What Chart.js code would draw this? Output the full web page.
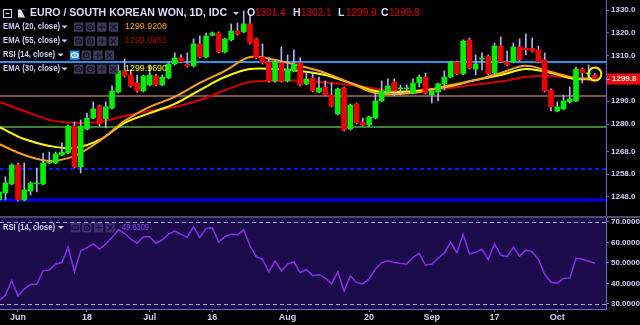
<!DOCTYPE html>
<html>
<head>
<meta charset="utf-8">
<script src="https://cdn.jsdelivr.net/npm/chart.js@4.4.1/dist/chart.umd.min.js"></script>
<style>
  html, body { margin: 0; padding: 0; background: #000; }
  #wrap { position: relative; width: 640px; height: 325px; overflow: hidden; background: #000; }
  #priceChart { position: absolute; left: 0; top: 0; }
  #rsiChart { position: absolute; left: 0; top: 216px; }
</style>
</head>
<body>
<div id="wrap">
  <canvas id="priceChart" width="640" height="216"></canvas>
  <canvas id="rsiChart" width="640" height="109"></canvas>
</div>
<script>
// DATA (EUR/KRW daily)
const dates = [
  '2018-05-29','2018-05-30','2018-05-31',
  '2018-06-01','2018-06-04','2018-06-05','2018-06-06','2018-06-07','2018-06-08','2018-06-11','2018-06-12','2018-06-13','2018-06-14','2018-06-15',
  '2018-06-18','2018-06-19','2018-06-20','2018-06-21','2018-06-22','2018-06-25','2018-06-26','2018-06-27','2018-06-28','2018-06-29',
  '2018-07-02','2018-07-03','2018-07-04','2018-07-05','2018-07-06','2018-07-09','2018-07-10','2018-07-11','2018-07-12','2018-07-13',
  '2018-07-16','2018-07-17','2018-07-18','2018-07-19','2018-07-20','2018-07-23','2018-07-24','2018-07-25','2018-07-26','2018-07-27','2018-07-30','2018-07-31',
  '2018-08-01','2018-08-02','2018-08-03','2018-08-06','2018-08-07','2018-08-08','2018-08-09','2018-08-10','2018-08-13','2018-08-14','2018-08-15','2018-08-16','2018-08-17',
  '2018-08-20','2018-08-21','2018-08-22','2018-08-23','2018-08-24','2018-08-27','2018-08-28','2018-08-29','2018-08-30','2018-08-31',
  '2018-09-03','2018-09-04','2018-09-05','2018-09-06','2018-09-07','2018-09-10','2018-09-11','2018-09-12','2018-09-13','2018-09-14',
  '2018-09-17','2018-09-18','2018-09-19','2018-09-20','2018-09-21','2018-09-24','2018-09-25','2018-09-26','2018-09-27','2018-09-28',
  '2018-10-01','2018-10-02','2018-10-03','2018-10-04','2018-10-05','2018-10-08','2018-10-09'
];

const opens = [
  1246.7, 1249.8, 1253.7, 1262.0, 1246.7, 1250.6, 1253.7, 1253.7, 1262.9, 1262.9,
  1266.4, 1267.3, 1279.1, 1261.2, 1277.8, 1282.6, 1287.9, 1282.2, 1287.0, 1294.0,
  1303.3, 1301.5, 1298.0, 1294.5, 1297.1, 1301.1, 1297.1, 1300.2, 1306.3, 1309.0,
  1306.3, 1305.5, 1315.1, 1309.4, 1318.9, 1319.9, 1311.6, 1316.9, 1320.8, 1320.4,
  1323.9, 1317.3, 1309.4, 1307.2, 1298.9, 1306.8, 1298.9, 1303.3, 1306.8, 1297.6,
  1300.2, 1294.0, 1296.2, 1292.7, 1284.4, 1295.8, 1277.8, 1288.8, 1280.9, 1279.6,
  1282.6, 1290.1, 1294.0, 1298.4, 1295.4, 1295.4, 1293.6, 1298.0, 1300.6, 1292.7,
  1294.0, 1297.6, 1300.6, 1307.2, 1302.0, 1316.9, 1304.1, 1308.5, 1309.8, 1302.4,
  1314.2, 1307.2, 1307.2, 1313.8, 1313.3, 1313.3, 1312.5, 1308.1, 1294.9, 1285.7,
  1286.6, 1289.7, 1290.1, 1304.1, 1302.0, 1301.4
];
const highs = [
  1251.1, 1256.8, 1262.5, 1262.9, 1262.9, 1254.6, 1260.7, 1267.3, 1267.7, 1267.7,
  1271.7, 1279.6, 1280.9, 1281.8, 1284.8, 1289.7, 1288.3, 1289.7, 1296.7, 1305.9,
  1308.5, 1303.7, 1301.5, 1301.5, 1305.9, 1301.9, 1301.5, 1307.2, 1311.2, 1310.3,
  1311.2, 1317.3, 1318.6, 1319.9, 1320.4, 1320.4, 1317.7, 1323.9, 1324.3, 1329.6,
  1327.8, 1317.7, 1315.1, 1309.0, 1307.6, 1313.8, 1310.3, 1312.5, 1309.0, 1302.8,
  1302.8, 1300.6, 1298.9, 1298.0, 1295.8, 1296.2, 1288.8, 1289.2, 1282.6, 1283.5,
  1293.6, 1298.9, 1299.8, 1299.8, 1297.1, 1297.1, 1299.8, 1301.5, 1302.4, 1295.4,
  1298.0, 1303.3, 1307.6, 1307.6, 1316.9, 1317.7, 1310.3, 1311.2, 1310.3, 1315.5,
  1318.2, 1312.0, 1315.5, 1317.3, 1319.5, 1317.7, 1314.2, 1311.2, 1295.4, 1289.7,
  1292.7, 1296.2, 1305.0, 1304.6, 1305.9, 1302.1
];
const lows = [
  1246.3, 1246.7, 1253.3, 1246.3, 1246.3, 1248.9, 1250.2, 1253.3, 1262.5, 1262.5,
  1266.0, 1266.9, 1260.7, 1258.5, 1277.4, 1282.2, 1279.1, 1278.3, 1286.6, 1293.6,
  1300.6, 1296.2, 1294.0, 1294.0, 1296.7, 1296.7, 1296.7, 1299.8, 1305.9, 1306.8,
  1305.0, 1305.0, 1309.0, 1309.0, 1318.6, 1311.2, 1311.2, 1316.4, 1319.0, 1320.0,
  1315.1, 1308.5, 1306.3, 1298.4, 1298.4, 1298.4, 1298.4, 1302.8, 1296.7, 1297.1,
  1294.0, 1293.6, 1292.3, 1287.5, 1284.0, 1277.0, 1277.4, 1280.0, 1279.1, 1279.1,
  1282.2, 1289.7, 1293.6, 1292.3, 1292.7, 1294.0, 1293.2, 1296.2, 1293.2, 1289.2,
  1290.1, 1294.9, 1300.2, 1301.5, 1301.5, 1304.1, 1301.5, 1303.7, 1301.5, 1301.9,
  1306.8, 1305.5, 1306.8, 1307.6, 1310.3, 1311.6, 1306.8, 1294.0, 1285.7, 1285.3,
  1286.2, 1289.2, 1289.7, 1298.0, 1299.3, 1299.8
];
const closes = [
  1250.2, 1254.1, 1262.0, 1246.7, 1251.1, 1254.1, 1254.1, 1262.9, 1263.3, 1266.9,
  1267.7, 1279.1, 1261.2, 1279.1, 1282.6, 1286.6, 1280.0, 1287.5, 1294.5, 1303.3,
  1301.1, 1296.7, 1294.5, 1301.1, 1301.5, 1297.1, 1300.6, 1306.3, 1309.0, 1307.2,
  1305.5, 1315.1, 1309.4, 1318.6, 1319.9, 1311.6, 1317.3, 1320.8, 1319.5, 1323.9,
  1315.5, 1309.0, 1306.8, 1298.9, 1307.2, 1298.9, 1304.1, 1306.3, 1297.1, 1299.8,
  1294.5, 1295.8, 1292.7, 1287.9, 1295.4, 1277.4, 1288.3, 1280.5, 1279.6, 1283.1,
  1290.1, 1294.5, 1296.7, 1294.5, 1295.8, 1295.8, 1298.0, 1300.6, 1293.6, 1294.5,
  1297.6, 1300.6, 1307.2, 1302.0, 1316.4, 1304.6, 1306.3, 1309.0, 1302.0, 1314.2,
  1307.2, 1305.9, 1313.8, 1308.1, 1312.5, 1312.0, 1307.2, 1294.5, 1287.5, 1287.5,
  1290.1, 1291.0, 1304.1, 1302.4, 1302.4, 1299.8
];

// EMA lines, read at every 4th bar
const emaIdx = [0, 4, 8, 12, 16, 20, 24, 28, 32, 36, 40, 44, 48, 52, 56, 60, 64, 68, 72, 76, 80, 84, 88, 92, 95];
const ema20 = [1271.2, 1266.4, 1263.8, 1266.0, 1272.6, 1281.3, 1287.5, 1291.9, 1298.0, 1303.3, 1309.4, 1308.1, 1305.5,
               1302.4, 1298.0, 1293.6, 1293.2, 1294.5, 1297.1, 1299.3, 1302.4, 1305.5, 1302.8, 1300.2, 1299.9];
const ema30 = [1278.7, 1273.4, 1270.4, 1269.5, 1273.0, 1280.5, 1284.8, 1288.8, 1294.9, 1300.6, 1304.1, 1304.1, 1303.3,
               1301.5, 1298.0, 1294.5, 1294.0, 1294.9, 1296.7, 1299.3, 1301.5, 1304.1, 1302.4, 1299.7, 1300.0];
const ema55 = [1289.7, 1285.7, 1281.8, 1280.5, 1280.9, 1283.5, 1285.7, 1287.5, 1290.5, 1294.9, 1298.4, 1298.9, 1299.1,
               1298.2, 1297.1, 1295.6, 1294.5, 1294.9, 1295.8, 1297.3, 1298.6, 1300.6, 1301.1, 1299.8, 1299.1];

const rsi = [
  31.6, 34.4, 41.4, 34.0, 37.3, 39.6, 39.6, 46.3, 46.6, 49.4,
  50.2, 57.7, 45.8, 55.9, 57.5, 59.3, 56.8, 59.3, 62.5, 66.1,
  64.5, 61.6, 59.6, 62.8, 62.8, 59.6, 61.2, 64.1, 65.6, 64.1,
  62.5, 67.7, 62.4, 66.9, 67.2, 60.2, 62.8, 64.1, 63.7, 66.1,
  58.4, 53.1, 51.8, 45.8, 51.0, 46.1, 49.5, 50.6, 45.3, 46.9,
  43.8, 44.3, 42.8, 39.8, 45.8, 36.3, 43.7, 40.4, 39.8, 42.2,
  47.1, 50.2, 51.1, 50.2, 49.8, 49.5, 52.8, 54.7, 48.9, 49.5,
  52.3, 55.0, 60.1, 55.0, 64.0, 54.4, 55.2, 56.7, 51.8, 59.3,
  53.9, 53.1, 57.7, 53.4, 56.3, 55.5, 51.8, 44.5, 40.6, 40.1,
  42.5, 42.7, 52.3, 51.8, 51.0, 49.8
];

// last indicator values as printed in the legends
const legendValues = ['1299.9208', '1299.0451', '1299.9690', '49.8309'];

// horizontal drawing levels
const levels = [1307.2, 1292.3, 1278.8, 1260.3, 1246.7];

const priceTicks = [1330, 1320, 1310, 1290, 1280, 1268, 1258, 1248];
const rsiTicks = [70, 60, 50, 40, 30];
const tickDates = ['2018-06-01', '2018-06-18', '2018-07-02', '2018-07-16', '2018-08-01', '2018-08-20', '2018-09-03', '2018-09-17', '2018-10-01'];
const tickLabels = ['Jun', '18', 'Jul', '16', 'Aug', '20', 'Sep', '17', 'Oct'];

// STYLE
const GREEN = '#00ee00', RED = '#ee0000', WICK = '#b0b0ee';
const ORANGE = '#f5a01e', YELLOW = '#ffff00', DARKRED = '#d00000';
const AXIS = '#6c6cc8', TXT = '#cfcff8';
const FONT = "'Liberation Sans', Arial, sans-serif";
const levelStyles = [
  { color: '#2196f3', width: 2, dash: [] },
  { color: '#a07060', width: 1.5, dash: [] },
  { color: '#3f7f35', width: 2, dash: [] },
  { color: '#1414ff', width: 2, dash: [4, 3] },
  { color: '#0000ff', width: 3, dash: [] }
];

const xMin = 0.13, xMax = 96.78;
const tickIdx = tickDates.map(d => dates.indexOf(d));
const last = closes.length - 1;

function fitText(ctx, str, x, y, w) {
  const m = ctx.measureText(str).width;
  ctx.save();
  ctx.translate(x, y);
  ctx.scale(w / m, 1);
  ctx.fillText(str, 0, 0);
  ctx.restore();
}

function arrow(ctx, cx, cy, color) {
  ctx.fillStyle = color;
  ctx.beginPath();
  ctx.moveTo(cx - 3, cy - 1.5);
  ctx.lineTo(cx + 3, cy - 1.5);
  ctx.lineTo(cx, cy + 1.5);
  ctx.closePath();
  ctx.fill();
}

// eye, gear, plus, cross buttons
function icons(ctx, x, cy, box, glyph, firstBox, firstGlyph) {
  for (let k = 0; k < 4; k++) {
    const bx = x + k * 11.6, by = cy - 4.5;
    ctx.fillStyle = (k === 0 && firstBox) ? firstBox : box;
    ctx.fillRect(bx, by, 9.3, 9.3);
    const g = (k === 0 && firstGlyph) ? firstGlyph : glyph;
    ctx.strokeStyle = g; ctx.fillStyle = g; ctx.lineWidth = 1.2;
    const mx = bx + 4.65, my = cy + 0.15;
    ctx.beginPath();
    if (k === 0) {
      ctx.ellipse(mx, my, 3.3, 2.2, 0, 0, Math.PI * 2); ctx.stroke();
      ctx.beginPath(); ctx.arc(mx, my, 1, 0, Math.PI * 2); ctx.fill();
    } else if (k === 1) {
      ctx.arc(mx, my, 2.6, 0, Math.PI * 2); ctx.stroke();
      ctx.beginPath(); ctx.arc(mx, my, 0.9, 0, Math.PI * 2); ctx.fill();
    } else if (k === 2) {
      ctx.moveTo(mx - 3, my); ctx.lineTo(mx + 3, my);
      ctx.moveTo(mx, my - 3); ctx.lineTo(mx, my + 3); ctx.stroke();
    } else {
      ctx.moveTo(mx - 2.6, my - 2.6); ctx.lineTo(mx + 2.6, my + 2.6);
      ctx.moveTo(mx + 2.6, my - 2.6); ctx.lineTo(mx - 2.6, my + 2.6); ctx.stroke();
    }
  }
}

const mainOverlay = {
  id: 'mainOverlay',
  beforeDatasetsDraw(chart) {
    const { ctx, chartArea: a, scales: { y } } = chart;
    levels.forEach((v, k) => {
      const st = levelStyles[k];
      const py = Math.round(y.getPixelForValue(v));
      ctx.save();
      ctx.strokeStyle = st.color;
      ctx.lineWidth = st.width;
      ctx.setLineDash(st.dash);
      ctx.beginPath();
      ctx.moveTo(a.left, py);
      ctx.lineTo(a.right, py);
      ctx.stroke();
      ctx.restore();
    });
  },
  afterDraw(chart) {
    const { ctx, scales: { x, y } } = chart;
    ctx.save();
    ctx.textBaseline = 'middle';

    // title row
    ctx.strokeStyle = TXT; ctx.lineWidth = 1;
    ctx.strokeRect(3.5, 9.5, 8, 8);
    ctx.beginPath(); ctx.moveTo(5.5, 13.5); ctx.lineTo(9.5, 13.5); ctx.stroke();
    ctx.fillStyle = '#e4e4ff';
    ctx.fillRect(18, 9.5, 7, 8);
    ctx.fillStyle = '#000';
    ctx.beginPath(); ctx.moveTo(21, 9.5); ctx.lineTo(25, 9.5); ctx.lineTo(25, 17.5); ctx.closePath(); ctx.fill();
    ctx.fillStyle = '#dcdcff';
    ctx.font = 'bold 10.5px ' + FONT;
    fitText(ctx, 'EURO / SOUTH KOREAN WON, 1D, IDC', 30, 13.5, 197);
    arrow(ctx, 236, 13.5, TXT);
    const ohlc = [['O', opens[last], 247], ['H', highs[last], 293], ['L', lows[last], 338], ['C', closes[last], 381]];
    ohlc.forEach(([k, v, px]) => {
      ctx.font = 'bold 10.5px ' + FONT; ctx.fillStyle = '#dcdcff';
      ctx.fillText(k, px, 13.5);
      ctx.font = '10px ' + FONT; ctx.fillStyle = '#e00000';
      ctx.fillText(v.toFixed(1), px + 8, 13.5);
    });

    // indicator rows
    const rows = [
      { label: 'EMA (20, close)', w: 57, cy: 27, arrowX: 64.5, iconX: 74, text: legendValues[0], color: ORANGE },
      { label: 'EMA (55, close)', w: 57, cy: 41, arrowX: 64.5, iconX: 74, text: legendValues[1], color: '#b80000' },
      { label: 'RSI (14, close)', w: 52, cy: 55, arrowX: 60.5, iconX: 70, text: null, hi: true },
      { label: 'EMA (30, close)', w: 57, cy: 69, arrowX: 64.5, iconX: 74, text: legendValues[2], color: YELLOW }
    ];
    rows.forEach(r => {
      ctx.font = 'bold 9px ' + FONT; ctx.fillStyle = TXT;
      fitText(ctx, r.label, 3, r.cy, r.w);
      arrow(ctx, r.arrowX, r.cy, TXT);
      icons(ctx, r.iconX, r.cy, '#3a3a58', '#15152a', r.hi ? '#2196f3' : null, r.hi ? '#ffffff' : null);
      if (r.text) {
        ctx.font = '9px ' + FONT; ctx.fillStyle = r.color;
        fitText(ctx, r.text, 125, r.cy, 42);
      }
    });

    // marker circle on the last bar
    ctx.strokeStyle = '#ffee00'; ctx.lineWidth = 2;
    ctx.beginPath();
    ctx.arc(x.getPixelForValue(last), y.getPixelForValue(highs[last]) + 0.5, 6.5, 0, Math.PI * 2);
    ctx.stroke();

    // last price tag
    const py = y.getPixelForValue(closes[last]);
    ctx.fillStyle = '#ff0000';
    ctx.fillRect(607, Math.round(py) - 5.5, 33, 11);
    ctx.fillStyle = '#ffffff';
    ctx.font = 'bold 8px ' + FONT;
    ctx.fillText('-', 607, py);
    ctx.fillText(closes[last].toFixed(1), 612, py);
    ctx.restore();
  }
};

const rsiOverlay = {
  id: 'rsiOverlay',
  beforeDraw(chart) {
    const { ctx, chartArea: a } = chart;
    ctx.save();
    ctx.fillStyle = '#1b0b4a';
    ctx.fillRect(a.left, a.top, a.right - a.left, a.bottom - a.top);
    ctx.restore();
  },
  beforeDatasetsDraw(chart) {
    const { ctx, chartArea: a, scales: { y } } = chart;
    ctx.save();
    ctx.strokeStyle = '#a898e8'; ctx.lineWidth = 1; ctx.setLineDash([4, 3]);
    [rsiTicks[0], rsiTicks[rsiTicks.length - 1]].forEach(v => {
      const py = Math.round(y.getPixelForValue(v)) + 0.5;
      ctx.beginPath(); ctx.moveTo(a.left, py); ctx.lineTo(a.right, py); ctx.stroke();
    });
    ctx.restore();
  },
  afterDraw(chart) {
    const { ctx } = chart;
    ctx.save();
    ctx.fillStyle = '#4c4c72';
    ctx.fillRect(0, 0, 640, 2);
    ctx.textBaseline = 'middle';
    ctx.font = 'bold 9px ' + FONT; ctx.fillStyle = TXT;
    fitText(ctx, 'RSI (14, close)', 3, 11.5, 52);
    arrow(ctx, 61, 11.5, TXT);
    icons(ctx, 70.7, 11.5, '#3c2e70', '#1b0b4a', null, null);
    ctx.font = '9px ' + FONT; ctx.fillStyle = '#9a3cff';
    fitText(ctx, legendValues[3], 122, 11.5, 27);
    ctx.restore();
  }
};

const common = {
  responsive: false,
  animation: false,
  events: [],
  plugins: { legend: { display: false }, tooltip: { enabled: false } }
};

new Chart(document.getElementById('priceChart'), {
  type: 'bar',
  data: {
    datasets: [
      {
        type: 'bar', label: 'body',
        data: opens.map((o, i) => ({ x: i, y: [o, closes[i]] })),
        backgroundColor: opens.map((o, i) => closes[i] >= o ? GREEN : RED),
        barThickness: 5, minBarLength: 1, grouped: false, borderWidth: 0
      },
      {
        type: 'bar', label: 'wick',
        data: lows.map((l, i) => ({ x: i, y: [l, highs[i]] })),
        backgroundColor: WICK, barThickness: 1, grouped: false, borderWidth: 0
      },
      { type: 'line', label: 'EMA 20', data: emaIdx.map((k, j) => ({ x: k, y: ema20[j] })),
        borderColor: ORANGE, borderWidth: 2, pointRadius: 0, tension: 0.35 },
      { type: 'line', label: 'EMA 30', data: emaIdx.map((k, j) => ({ x: k, y: ema30[j] })),
        borderColor: YELLOW, borderWidth: 2, pointRadius: 0, tension: 0.35 },
      { type: 'line', label: 'EMA 55', data: emaIdx.map((k, j) => ({ x: k, y: ema55[j] })),
        borderColor: DARKRED, borderWidth: 2, pointRadius: 0, tension: 0.35 }
    ]
  },
  options: {
    ...common,
    layout: { padding: 0 },
    scales: {
      x: { type: 'linear', min: xMin, max: xMax, display: false, offset: false },
      y: {
        type: 'linear', position: 'right', min: 1239.65, max: 1334.39,
        afterBuildTicks: s => { s.ticks = priceTicks.map(v => ({ value: v })); },
        afterFit: s => { s.width = 34; s.paddingTop = 0; s.paddingBottom = 0; },
        ticks: { color: TXT, font: { family: FONT, size: 8, weight: 'bold' }, padding: 2, autoSkip: false,
                 callback: v => v.toFixed(1) },
        grid: { drawOnChartArea: false, drawTicks: true, tickLength: 3, color: AXIS },
        border: { display: true, color: AXIS, width: 1 }
      }
    }
  },
  plugins: [mainOverlay]
});

new Chart(document.getElementById('rsiChart'), {
  type: 'line',
  data: {
    datasets: [{
      label: 'RSI', data: rsi.map((v, i) => ({ x: i, y: v })),
      borderColor: '#8a2cf0', borderWidth: 1.5, pointRadius: 0, tension: 0
    }]
  },
  options: {
    ...common,
    layout: { padding: { top: 2 } },
    scales: {
      x: {
        type: 'linear', min: xMin, max: xMax, position: 'bottom',
        afterBuildTicks: s => { s.ticks = tickIdx.map(v => ({ value: v })); },
        afterFit: s => { s.height = 16; s.paddingLeft = 0; s.paddingRight = 0; },
        ticks: { color: TXT, font: { family: FONT, size: 9, weight: 'bold' }, padding: 0, autoSkip: false, maxRotation: 0,
                 callback: v => tickLabels[tickIdx.indexOf(v)] },
        grid: { drawOnChartArea: false, drawTicks: true, tickLength: 3, color: AXIS },
        border: { display: true, color: AXIS, width: 1 }
      },
      y: {
        type: 'linear', position: 'right', min: 27.56, max: 71.95,
        afterBuildTicks: s => { s.ticks = rsiTicks.map(v => ({ value: v })); },
        afterFit: s => { s.width = 34; s.paddingTop = 0; s.paddingBottom = 0; },
        ticks: { color: TXT, font: { family: FONT, size: 8, weight: 'bold' }, padding: 2, autoSkip: false,
                 callback: v => v.toFixed(4) },
        grid: { drawOnChartArea: false, drawTicks: true, tickLength: 3, color: AXIS },
        border: { display: true, color: AXIS, width: 1 }
      }
    }
  },
  plugins: [rsiOverlay]
});
</script>
</body>
</html>
